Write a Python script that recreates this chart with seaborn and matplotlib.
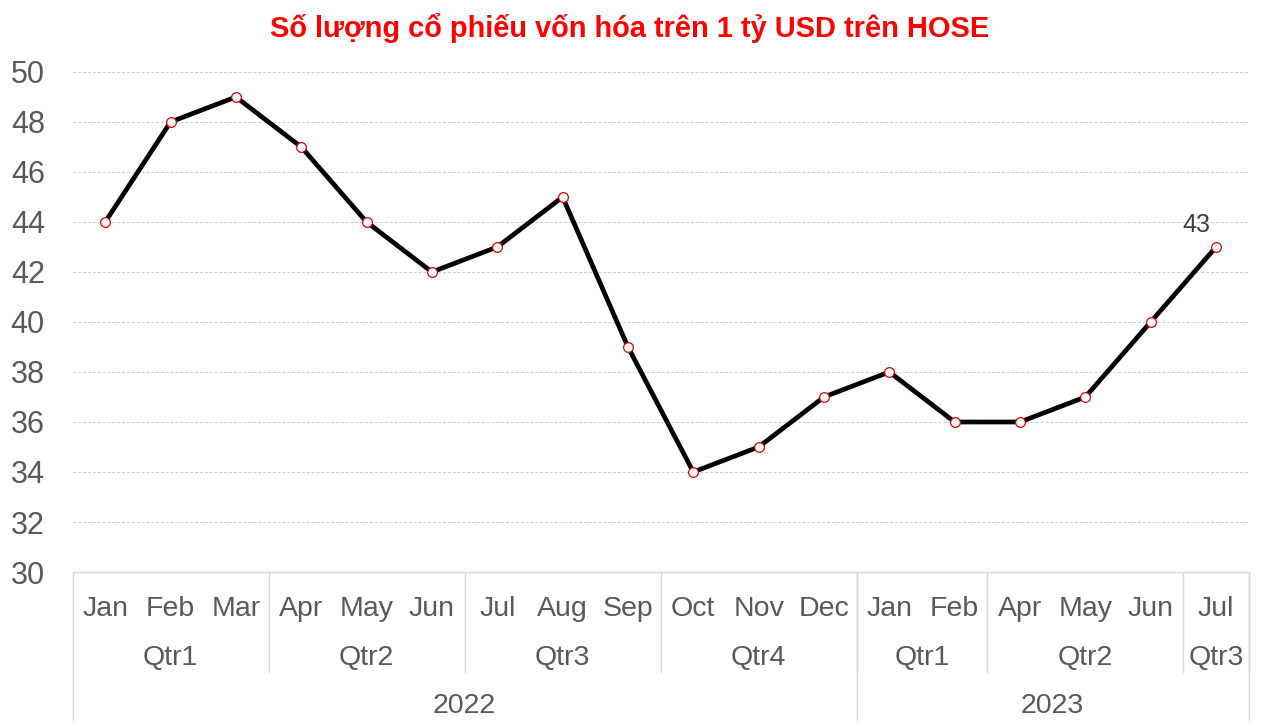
import numpy as np
import pandas as pd
import matplotlib
matplotlib.use('Agg')
import matplotlib.pyplot as plt
import seaborn as sns

months = ['Jan', 'Feb', 'Mar', 'Apr', 'May', 'Jun', 'Jul', 'Aug', 'Sep', 'Oct', 'Nov', 'Dec',
          'Jan', 'Feb', 'Apr', 'May', 'Jun', 'Jul']
quarters = ['Qtr1'] * 3 + ['Qtr2'] * 3 + ['Qtr3'] * 3 + ['Qtr4'] * 3 + \
           ['Qtr1'] * 2 + ['Qtr2'] * 3 + ['Qtr3'] * 1
years = ['2022'] * 12 + ['2023'] * 6
values = [44, 48, 49, 47, 44, 42, 43, 45, 39, 34, 35, 37, 38, 36, 36, 37, 40, 43]

df = pd.DataFrame({'pos': np.arange(len(values)), 'month': months,
                   'quarter': quarters, 'year': years, 'value': values})

sns.set_style('white')
narrow = ['Liberation Sans Narrow', 'Liberation Sans', 'DejaVu Sans']
plt.rcParams['font.family'] = narrow

label_color = '#595959'
sep_color = '#d9d9d9'

fig = plt.figure(figsize=(12.64, 7.27), dpi=100)
ax = fig.add_axes([0.0574, 0.2132, 0.9305, 0.6878])

sns.lineplot(data=df, x='pos', y='value', color='black', linewidth=3.4, marker='o',
             markersize=7, markerfacecolor='white', markeredgecolor='#e00000',
             markeredgewidth=0.9, ax=ax, zorder=3)

n = len(values)
ax.set_xlim(-0.5, n - 0.5)
ax.set_ylim(30, 50)
ax.set_yticks(range(30, 51, 2))
ax.tick_params(axis='y', length=0, pad=20, labelsize=22, labelcolor=label_color)
ax.set_xticks([])
ax.set_xlabel('')
ax.set_ylabel('')
for y in range(32, 51, 2):
    ax.axhline(y, color='#cccccc', linewidth=0.7, linestyle=(0, (3, 2)), zorder=1)
for s in ['top', 'right', 'left']:
    ax.spines[s].set_visible(False)
ax.spines['bottom'].set_color(sep_color)
ax.spines['bottom'].set_linewidth(1)

tr = ax.get_xaxis_transform()
y_month, y_qtr, y_year = -0.074, -0.172, -0.268
q_bottom, y_bottom = -0.2, -0.296
fs = 20.5

for i, m in enumerate(months):
    ax.text(i, y_month, m, transform=tr, ha='center', va='center', fontsize=fs,
            color=label_color)

# quarter groups
groups = []
start = 0
for i in range(1, n + 1):
    if i == n or quarters[i] != quarters[start] or years[i] != years[start]:
        groups.append((start, i - 1, quarters[start]))
        start = i
for a, b, q in groups:
    ax.text((a + b) / 2, y_qtr, q, transform=tr, ha='center', va='center', fontsize=fs,
            color=label_color)
    ax.plot([b + 0.5, b + 0.5], [0, q_bottom], transform=tr, color=sep_color,
            linewidth=1, clip_on=False)

# year groups
ygroups = []
start = 0
for i in range(1, n + 1):
    if i == n or years[i] != years[start]:
        ygroups.append((start, i - 1, years[start]))
        start = i
for a, b, yr in ygroups:
    ax.text((a + b) / 2, y_year, yr, transform=tr, ha='center', va='center', fontsize=fs,
            color=label_color)
    ax.plot([b + 0.5, b + 0.5], [0, y_bottom], transform=tr, color=sep_color,
            linewidth=1, clip_on=False)
ax.plot([-0.5, -0.5], [0, y_bottom], transform=tr, color=sep_color, linewidth=1, clip_on=False)

ax.annotate(str(values[-1]), (n - 1, values[-1]), xytext=(-14, 16), textcoords='offset points',
            ha='center', va='center', fontsize=18, color='#404040')

fig.suptitle('Số lượng cổ phiếu vốn hóa trên 1 tỷ USD trên HOSE', x=0.4985, y=0.961,
             va='center', fontsize=20.9, fontweight='bold', color='#ff0000',
             family=['Liberation Sans', 'DejaVu Sans'])

fig.savefig('out.png', dpi=100)
